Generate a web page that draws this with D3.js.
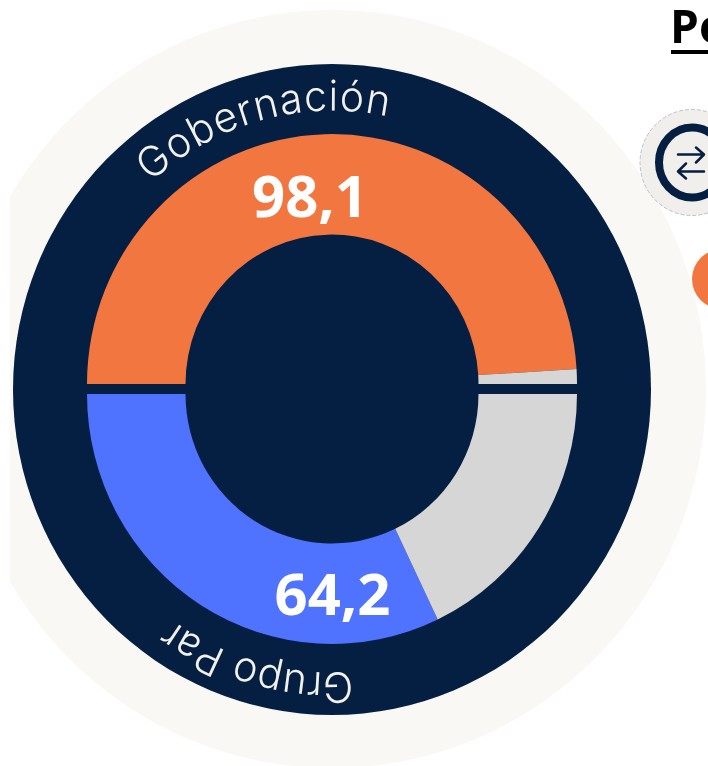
<!DOCTYPE html>
<html>
<head>
<meta charset="utf-8">
<script src="https://cdn.jsdelivr.net/npm/d3@7"></script>
<style>
  html, body { margin: 0; padding: 0; background: #fff; overflow: hidden; }
  svg { filter: blur(0.6px); }
</style>
</head>
<body>
<div id="chart"></div>
<script>
// values (each half is a gauge out of 100)
const categories = ["Gobernación", "Grupo Par"];
const values = [98.1, 64.2];
const valueLabels = ["98,1", "64,2"];
const colors = ["#f2763f", "#4f73ff"];
const title = "Po";

const width = 708;
const height = 766;
const navy = "#041f42";
const rest = "#d6d6d6";

const svg = d3.select("#chart")
  .append("svg")
  .attr("width", width)
  .attr("height", height)
  .style("display", "block");

// the reference is stretched a little vertically
const yStretch = 1.02;
const cx = 332;
const cy = 389;
const gap = 5;
const radius = 245;
const holeRadius = 146.5;

svg.append("clipPath")
  .attr("id", "page")
  .append("rect")
  .attr("x", 10)
  .attr("y", 10)
  .attr("width", width)
  .attr("height", height);

const bg = svg.append("g").attr("clip-path", "url(#page)");

bg.append("ellipse")
  .attr("cx", cx)
  .attr("cy", cy)
  .attr("rx", 374)
  .attr("ry", 379)
  .attr("fill", "#faf8f5");

bg.append("ellipse")
  .attr("cx", cx)
  .attr("cy", cy + 0.5)
  .attr("rx", 319)
  .attr("ry", 325.5)
  .attr("fill", navy);

const arc = d3.arc().innerRadius(holeRadius).outerRadius(radius);

// upper half runs left to right over the top, lower half left to right under the bottom
const halves = [
  d3.pie().sort(null).startAngle(-Math.PI / 2).endAngle(Math.PI / 2),
  d3.pie().sort(null).startAngle(1.5 * Math.PI).endAngle(Math.PI / 2)
];

halves.forEach((pie, i) => {
  const g = svg.append("g")
    .attr("transform", `translate(${cx},${cy + (i === 0 ? -gap : gap)}) scale(1,${yStretch})`);

  g.selectAll("path")
    .data(pie([values[i], 100 - values[i]]))
    .join("path")
    .attr("d", arc)
    .attr("fill", (d, j) => j === 0 ? colors[i] : rest);
});

// curved category names
const labelRadius = [268, 273];
const labelStart = [-42.5, 175.6];
const labelEnd = [12, 215.8];

const rad = d => d * Math.PI / 180;

categories.forEach((name, i) => {
  const g = svg.append("g")
    .attr("transform", `translate(${cx},${cy + (i === 0 ? -gap : gap)}) scale(1,${yStretch})`);

  const p = d3.path();
  p.arc(0, 0, labelRadius[i], rad(labelStart[i] - 90), rad(labelEnd[i] - 90));

  g.append("path")
    .attr("id", `label-${i}`)
    .attr("d", p.toString())
    .attr("fill", "none");

  g.append("text")
    .attr("font-family", "Inter, sans-serif")
    .attr("font-size", 41)
    .attr("font-weight", 300)
    .attr("fill", "#f3f1ec")
    .append("textPath")
    .attr("href", `#label-${i}`)
    .attr("textLength", rad(labelEnd[i] - labelStart[i]) * labelRadius[i])
    .attr("lengthAdjust", "spacing")
    .text(name);
});

// value labels
const valueX = [310, 332.5];
const valueY = [217, 615];

svg.selectAll(".value")
  .data(valueLabels)
  .join("text")
  .attr("class", "value")
  .attr("x", (d, i) => valueX[i])
  .attr("y", (d, i) => valueY[i])
  .attr("text-anchor", "middle")
  .attr("font-family", "'Open Sans', sans-serif")
  .attr("font-weight", 700)
  .attr("font-size", 58)
  .attr("fill", "#fff")
  .text(d => d);

// cut-off title at the right
svg.append("text")
  .attr("x", 670)
  .attr("y", 43)
  .attr("font-family", "'Open Sans', sans-serif")
  .attr("font-weight", 700)
  .attr("font-size", 46)
  .attr("fill", "#000")
  .text(title);

svg.append("line")
  .attr("x1", 671)
  .attr("x2", width)
  .attr("y1", 52)
  .attr("y2", 52)
  .attr("stroke", "#000")
  .attr("stroke-width", 4);

// switch icon
const icon = svg.append("g").attr("transform", "translate(692,162.5)");

icon.append("ellipse")
  .attr("rx", 52)
  .attr("ry", 53)
  .attr("fill", "#f1efeb")
  .attr("stroke", "#b9c0cc")
  .attr("stroke-width", 1)
  .attr("stroke-dasharray", "4,2");

icon.append("ellipse")
  .attr("rx", 33)
  .attr("ry", 35)
  .attr("fill", "none")
  .attr("stroke", navy)
  .attr("stroke-width", 8);

const arrows = d3.path();
arrows.moveTo(-14, -8); arrows.lineTo(12, -8);
arrows.moveTo(4, -15); arrows.lineTo(12, -8); arrows.lineTo(4, 0);
arrows.moveTo(12, 9); arrows.lineTo(-14, 9);
arrows.moveTo(-6, 1); arrows.lineTo(-14, 9); arrows.lineTo(-6, 16);

icon.append("path")
  .attr("d", arrows.toString())
  .attr("fill", "none")
  .attr("stroke", navy)
  .attr("stroke-width", 2.5)
  .attr("stroke-linecap", "round")
  .attr("stroke-linejoin", "round");

// legend dot, cut off by the edge
svg.append("circle")
  .attr("cx", 722)
  .attr("cy", 279)
  .attr("r", 30)
  .attr("fill", colors[0]);
</script>
</body>
</html>
